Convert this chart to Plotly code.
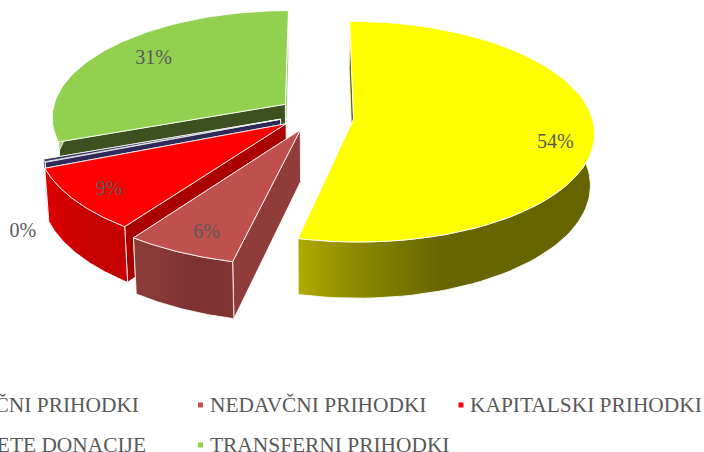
import math
import plotly.graph_objects as go

# ---- data ----
names = ["DAVČNI PRIHODKI", "NEDAVČNI PRIHODKI", "KAPITALSKI PRIHODKI", "PREJETE DONACIJE", "TRANSFERNI PRIHODKI"]
values = [53.6, 6.2, 9.1, 0.45, 30.65]
labels = ["54%", "6%", "9%", "0%", "31%"]

# ---- styles ----
top_col = ["#FFFF00", "#C0504D", "#FF0000", "#2F2A5A", "#92D050"]
cut_col = ["#6A6A00", "#8F3C3A", "#AA0000", "#2F2A5A", "#3C5020"]
end_col = ["#6A6A00", "#8F3C3A", "#AA0000", "#2F2A5A", "#A8CC80"]
wall_grad = [
    [[0, "#B0AB00"], [0.18, "#8E8B00"], [0.48, "#686600"], [1, "#666400"]],
    [[0, "#8C3D3A"], [0.7, "#7C3130"], [1, "#823533"]],
    [[0, "#DD0000"], [0.6, "#C40000"], [1, "#C80000"]],
    [[0, "#2F2A5A"], [1, "#2F2A5A"]],
    [[0, "#A8CC80"], [1, "#A8CC80"]],
]
slice_r = [1.01, 1.07, 1.035, 1.015, 0.99]
apex_dy = [0, -3, -4, -4, -3]
label_r = [0.86, 0.88, 0.88, 1.0, 0.75]
label_shift = [(-3, 13), (3, 5), (1, 2), (-25, 72), (4, -2)]
draw_order = [0, 4, 3, 2, 1]
ROT = 0.0
CX, CY, R, TILT, K, H, SHRINK, PULL = 316, 117, 236, 0.455, 0.114, 52, 0.985, 0.16
TXT = "#595959"
SERIF = "Liberation Serif, Times New Roman, serif"


def proj(theta, r, bis, h=0, dy=0):
    t, b = math.radians(theta), math.radians(bis)
    X = r * math.sin(t) + PULL * math.sin(b)
    Z = -r * math.cos(t) - PULL * math.cos(b)
    s = 1 / (1 - K * Z)
    f = SHRINK if h else 1
    return CX + R * X * s * f, CY + dy + R * TILT * Z * s * f + H * s * f * h


def arc(a, b, r, bis, h=0, dy=0, n=60):
    return [proj(a + (b - a) * i / n, r, bis, h, dy) for i in range(n + 1)]


fig = go.Figure()


def poly(pts, name, color=None, grad=None):
    xs = [p[0] for p in pts] + [pts[0][0]]
    ys = [p[1] for p in pts] + [pts[0][1]]
    kw = dict(fillgradient=dict(type="horizontal", colorscale=grad)) if grad else dict(fillcolor=color)
    fig.add_trace(go.Scatter(x=xs, y=ys, mode="lines", fill="toself", name=name, showlegend=False,
                             hoverinfo="skip", line=dict(color="rgba(255,255,255,0.85)", width=1), **kw))


# angular extents come from the values
total = sum(values)
starts, ends, a = [], [], ROT
for v in values:
    starts.append(a)
    a += v / total * 360
    ends.append(a)

for i in draw_order:
    a0, a1 = starts[i], ends[i]
    bis = (a0 + a1) / 2
    r, dy = slice_r[i], apex_dy[i]
    for ang, col in ((a1, end_col[i]), (a0, cut_col[i])):
        poly([proj(0, 0, bis, 0, dy), proj(ang, r, bis, 0, dy), proj(ang, r, bis, 1, dy), proj(0, 0, bis, 1, dy)],
             names[i], col)
    w0, w1 = max(a0, 70), min(a1, 290)
    if w1 > w0:
        poly(arc(w0, w1, r, bis, 0, dy) + arc(w1, w0, r, bis, 1, dy), names[i], grad=wall_grad[i])
    poly([proj(0, 0, bis, 0, dy)] + arc(a0, a1, r, bis, 0, dy), names[i], top_col[i])

# percentage labels
for i, lab in enumerate(labels):
    bis = (starts[i] + ends[i]) / 2
    x, y = proj(bis, label_r[i], bis, 0, apex_dy[i])
    fig.add_trace(go.Scatter(x=[x + label_shift[i][0]], y=[y + label_shift[i][1]], mode="text", text=[lab],
                             showlegend=False, hoverinfo="skip", cliponaxis=False,
                             textfont=dict(family=SERIF, size=20, color=TXT)))

# legend, laid out as in the picture: the left column runs off the page
leg_mark_x = [None, 200.5, 461, None, 200.5]
leg_text_x = [139, 210, 470, 146, 210]
leg_y = [407, 407, 407, 447, 447]
for i, nm in enumerate(names):
    if leg_mark_x[i] is not None:
        fig.add_trace(go.Scatter(x=[leg_mark_x[i]], y=[leg_y[i] - 2], mode="markers", showlegend=False, hoverinfo="skip",
                                 cliponaxis=False, marker=dict(symbol="square", size=5, color=top_col[i])))
    pos = "middle right" if leg_mark_x[i] is not None else "middle left"
    fig.add_trace(go.Scatter(x=[leg_text_x[i]], y=[leg_y[i]], mode="text", text=[nm], textposition=pos,
                             showlegend=False, hoverinfo="skip", cliponaxis=False,
                             textfont=dict(family=SERIF, size=21.4, color=TXT)))

fig.update_layout(width=704, height=452, margin=dict(l=0, r=0, t=0, b=0), autosize=False,
                  paper_bgcolor="white", plot_bgcolor="white", showlegend=False,
                  xaxis=dict(range=[0, 704], visible=False, fixedrange=True),
                  yaxis=dict(range=[452, 0], visible=False, fixedrange=True))
fig.write_html("out.html", config={"displayModeBar": False},
               post_script="document.body.style.margin='0';document.body.style.overflow='hidden';")
